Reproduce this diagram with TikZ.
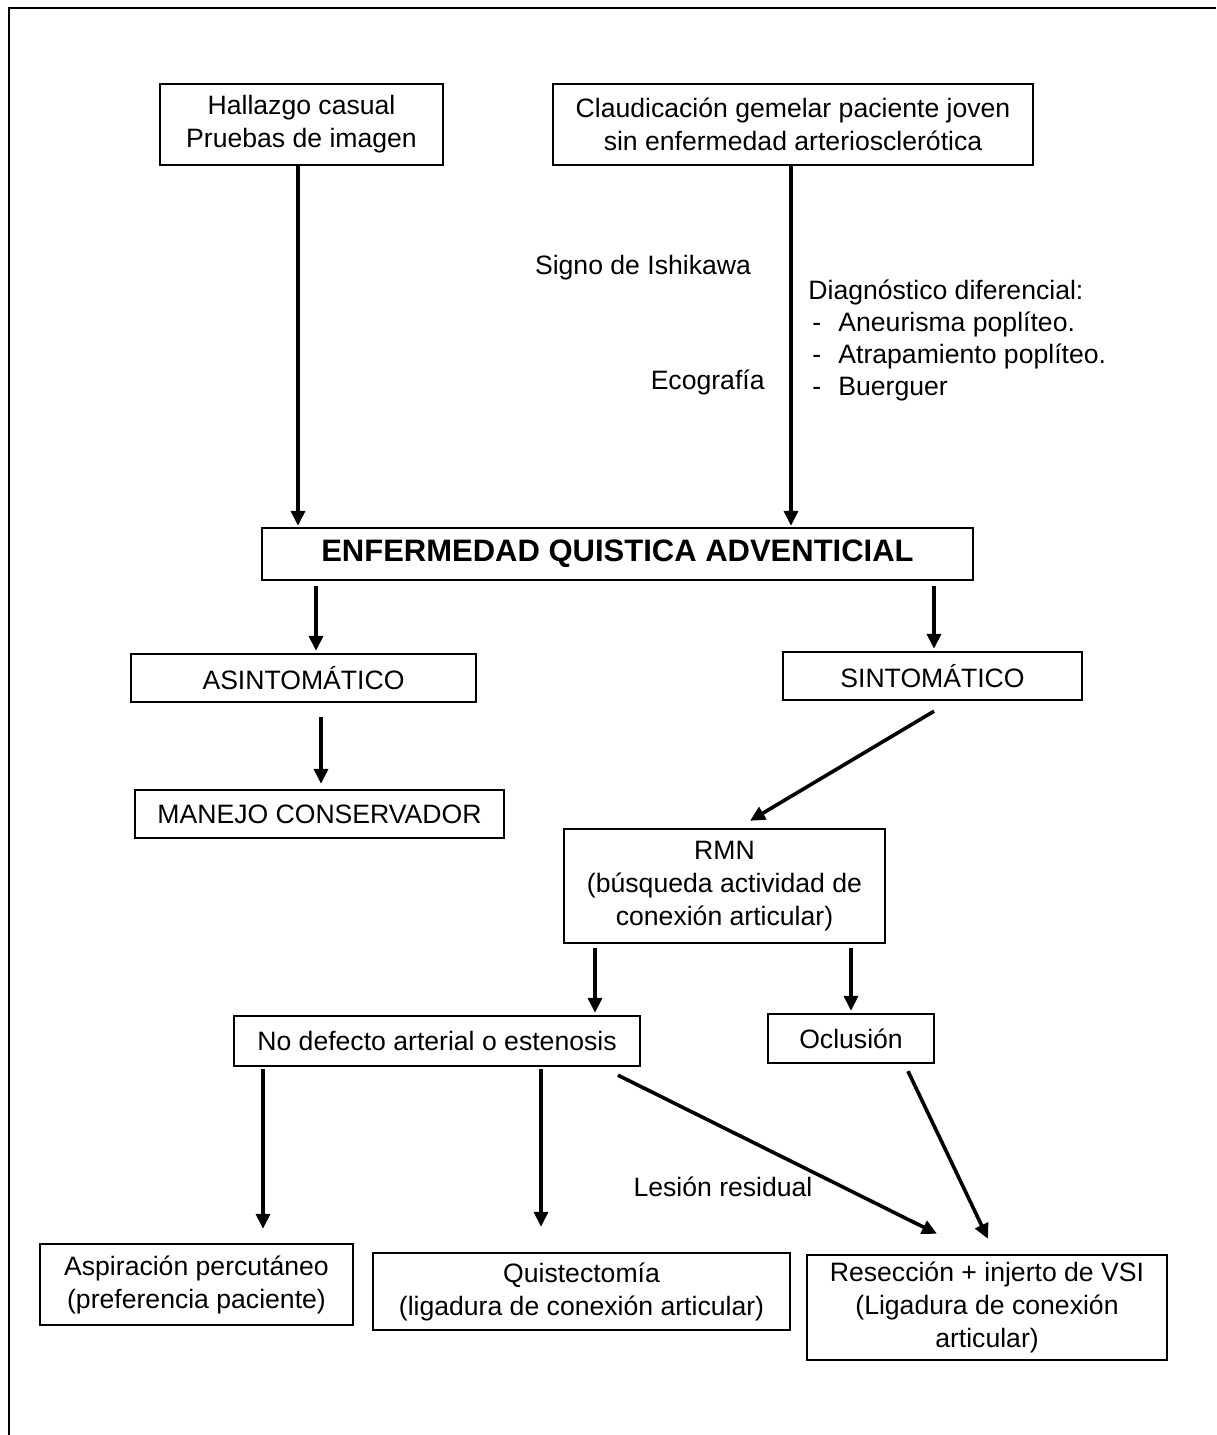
\documentclass[tikz,border=0pt]{standalone}
\usepackage{fontspec}
\setmainfont{Liberation Sans}
\usetikzlibrary{arrows.meta}

\begin{document}
\begin{tikzpicture}[x=0.5pt,y=-0.5pt,
  txt/.style={font=\fontsize{13.3pt}{16.5pt}\selectfont, inner sep=0pt, align=center},
  box/.style={txt, draw, line width=1.2pt, minimum width={#1*0.5pt}},
  arr/.style={line width=1.8pt, -{Triangle[length=7.5pt,width=7pt]}},
]
\useasboundingbox (0,0) rectangle (1216,1435);

% outer frame (open at the right and bottom)
\draw[line width=1.2pt] (9,1435) -- (9,8) -- (1216,8);

% boxes
\node[box=283, minimum height=40.5pt] (hal) at (301.5,124.5) {Hallazgo casual\\Pruebas de imagen};
\node[box=480, minimum height=40.5pt] (cla) at (793,124.5) {Claudicación gemelar paciente joven\\sin enfermedad arteriosclerótica};
\node[box=711, minimum height=26pt, font=\fontsize{15.5pt}{18pt}\selectfont\bfseries] (enf) at (617.5,554) {ENFERMEDAD QUISTICA ADVENTICIAL};
\node[box=345, minimum height=24pt] (asi) at (303.5,678) {ASINTOMÁTICO};
\node[box=299, minimum height=24pt] (sin) at (932.5,676) {SINTOMÁTICO};
\node[box=369, minimum height=24pt] (man) at (319.5,814) {MANEJO CONSERVADOR};
\node[box=321, minimum height=57pt] (rmn) at (724.5,886) {RMN\\(búsqueda actividad de\\conexión articular)};
\node[box=406, minimum height=25pt] (nod) at (437,1041) {No defecto arterial o estenosis};
\node[box=166, minimum height=24.5pt] (ocl) at (851,1038.5) {Oclusión};
\node[box=313, minimum height=40.5pt] (asp) at (196.5,1284.5) {Aspiración percutáneo\\(preferencia paciente)};
\node[box=417, minimum height=38.5pt] (qui) at (581.5,1291.5) {Quistectomía\\(ligadura de conexión articular)};
\node[box=360, minimum height=52.5pt] (res) at (987,1307.5) {Resección + injerto de VSI\\(Ligadura de conexión\\articular)};

% free labels
\node[txt] (sig) at (643,268) {Signo de Ishikawa};
\node[txt, anchor=east] (eco) at (765,382) {Ecografía};
\node[txt, anchor=north west, align=left, font=\fontsize{13.3pt}{16pt}\selectfont] (ddx) at (808,280)
  {Diagnóstico diferencial:\\
   \hspace*{2pt}\makebox[13pt][l]{-}Aneurisma poplíteo.\\
   \hspace*{2pt}\makebox[13pt][l]{-}Atrapamiento poplíteo.\\
   \hspace*{2pt}\makebox[13pt][l]{-}Buerguer};
\node[txt] (les) at (723,1187) {Lesión residual};

% connectors
\draw[arr] ([shift={(-3.5,0)}]hal.south) -- ([shift={(-319.5,-1)}]enf.north);
\draw[arr] ([shift={(-2,0)}]cla.south) -- ([shift={(173.5,-1)}]enf.north);
\draw[arr] ([shift={(-301.5,5)}]enf.south) -- ([shift={(12.5,-2)}]asi.north);
\draw[arr] ([shift={(316.5,5)}]enf.south) -- ([shift={(1.5,-2)}]sin.north);
\draw[arr] ([shift={(17.5,14)}]asi.south) -- ([shift={(1.5,-5)}]man.north);
\draw[arr] ([shift={(1.5,10)}]sin.south) -- ([shift={(25.5,-7)}]rmn.north);
\draw[arr] ([shift={(-129.5,4)}]rmn.south) -- ([shift={(158,-2)}]nod.north);
\draw[arr] ([shift={(126.5,4)}]rmn.south) -- ([shift={(0,-2)}]ocl.north);
\draw[arr] ([shift={(-174,2)}]nod.south) -- ([shift={(66.5,-14)}]asp.north);
\draw[arr] ([shift={(104,2)}]nod.south) -- ([shift={(-40.5,-25)}]qui.north);
\draw[arr] ([shift={(181,8)}]nod.south) -- ([shift={(-50,-20)}]res.north);
\draw[arr] ([shift={(57,7)}]ocl.south) -- ([shift={(1,-15)}]res.north);
\end{tikzpicture}
\end{document}
